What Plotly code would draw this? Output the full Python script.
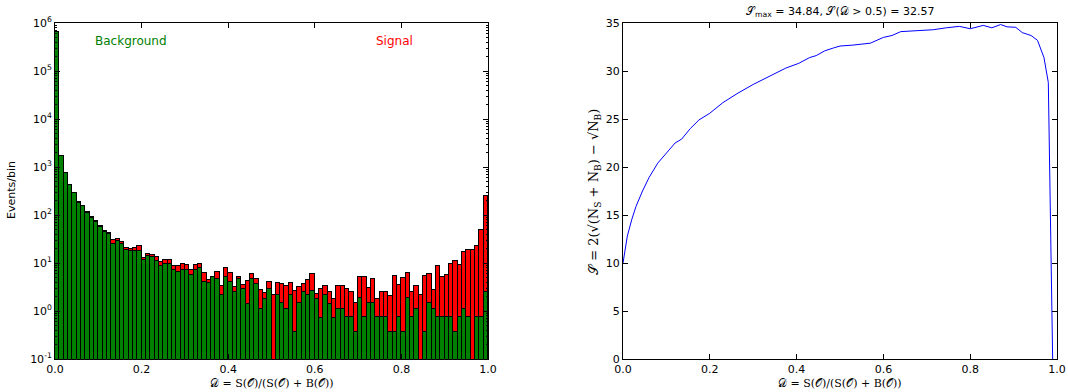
import plotly.graph_objects as go

# ---------------- data ----------------
n_bins = 100
bin_width = 0.01

bkg = [660000, 1690, 735, 426, 285, 182, 152, 112, 88, 73,
       57, 44, 41, 24.4, 28.2, 25.2, 18.9, 17.4, 17.4, 17.7,
       11.7, 13.7, 13.3, 10.9, 8.7, 9.6, 9.5, 7.0, 6.4, 7.0,
       7.2, 5.5, 7.0, 7.8, 4.1, 3.9, 5.1, 4.7, 2.2, 5.1,
       4.0, 2.5, 4.6, 2.9, 1.4, 4.6, 3.7, 1.1, 1.8, 2.9,
       0, 2.2, 1.5, 1.1, 2.2, 0.37, 1.5, 2.5, 2.2, 2.6,
       1.8, 0.72, 2.2, 1.4, 0.72, 1.1, 1.1, 0.74, 0.74, 0.37,
       1.84, 0.74, 1.47, 1.47, 0.74, 0.74, 0.74, 0.37, 0.37, 0.74,
       0.37, 1.84, 0.74, 1.1, 0, 0.37, 1.47, 1.1, 0.74, 0.74,
       0.74, 0.74, 0.37, 0.74, 1.1, 0.74, 0, 0.74, 0.74, 2.5]

sig = [0, 10, 5, 2, 2, 1, 1, 1, 1, 3,
       1, 3, 2, 5.6, 2.8, 2.6, 1.9, 2.4, 3.4, 4.5,
       1.2, 1.6, 1.3, 2.4, 1.9, 2.1, 2.2, 1.7, 2.3, 2.6,
       2.1, 1.7, 2.2, 1.8, 2.1, 0.5, 0.0, 1.7, 1.1, 2.8,
       2.2, 0.6, 0.5, 0.6, 2.8, 1.2, 1.0, 1.6, 0.6, 1.1,
       2.2, 1.6, 2.2, 2.2, 1.6, 2.2, 1.6, 1.2, 2.2, 3.4,
       0.5, 2.2, 1.1, 1.1, 1.1, 2.2, 2.2, 2.2, 1.7, 1.1,
       3.3, 4.4, 1.6, 3.2, 1.0, 1.7, 1.7, 1.7, 5.0, 2.8,
       4.4, 4.4, 1.7, 2.2, 2.2, 5.0, 4.3, 1.7, 7.8, 4.4,
       5.0, 8.9, 10.7, 8.2, 15.5, 17.6, 18.3, 21.8, 47.2, 247.5]

cut_D = [0.0, 0.01, 0.02, 0.03, 0.045, 0.06, 0.08, 0.10, 0.12, 0.135,
         0.155, 0.175, 0.20, 0.23, 0.265, 0.30, 0.33, 0.355, 0.375, 0.405,
         0.43, 0.445, 0.465, 0.485, 0.50, 0.53, 0.555, 0.57, 0.60, 0.62,
         0.64, 0.685, 0.715, 0.745, 0.775, 0.80, 0.83, 0.85, 0.87, 0.885,
         0.905, 0.92, 0.94, 0.955, 0.97, 0.98, 0.99]
signif = [10.0, 12.8, 14.5, 15.9, 17.5, 18.9, 20.4, 21.5, 22.5, 22.9,
          24.0, 24.9, 25.6, 26.7, 27.7, 28.6, 29.3, 29.8, 30.3, 30.8,
          31.4, 31.6, 32.1, 32.4, 32.6, 32.7, 32.8, 32.9, 33.5, 33.7,
          34.1, 34.2, 34.3, 34.5, 34.65, 34.4, 34.75, 34.5, 34.84, 34.6,
          34.55, 34.0, 33.7, 33.2, 31.4, 28.8, 0.0]

x_ticks = [0.0, 0.2, 0.4, 0.6, 0.8, 1.0]
x_ticktext = ["0.0", "0.2", "0.4", "0.6", "0.8", "1.0"]
log_tickvals = [0.1, 1, 10, 100, 1000, 10000, 100000, 1000000]
log_ticktext = ["10<sup>-1</sup>", "10<sup>0</sup>", "10<sup>1</sup>", "10<sup>2</sup>",
                "10<sup>3</sup>", "10<sup>4</sup>", "10<sup>5</sup>", "10<sup>6</sup>"]
s_ticks = [0, 5, 10, 15, 20, 25, 30, 35]

centers = [(i + 0.5) * bin_width for i in range(n_bins)]

W, H = 1068, 392
FONT = "DejaVu Sans"

fig = go.Figure()
fig.add_trace(go.Bar(x=centers, y=bkg, width=bin_width, name="Background",
                     marker=dict(color="#008000", line=dict(color="black", width=1)),
                     xaxis="x", yaxis="y", showlegend=False))
fig.add_trace(go.Bar(x=centers, y=sig, width=bin_width, name="Signal",
                     marker=dict(color="#ff0000", line=dict(color="black", width=1)),
                     xaxis="x", yaxis="y", showlegend=False))
fig.add_trace(go.Scatter(x=cut_D, y=signif, mode="lines",
                         line=dict(color="#0000ff", width=1),
                         xaxis="x2", yaxis="y2", showlegend=False))

ax_common = dict(showline=True, linecolor="black", linewidth=1, mirror="ticks",
                 ticks="inside", ticklen=5, tickcolor="black", showgrid=False,
                 zeroline=False, tickfont=dict(family=FONT, size=11, color="black"))

xd1 = [55 / W, 488 / W]
xd2 = [623 / W, 1057 / W]
yd = [33 / H, 369 / H]

fig.update_layout(
    width=W, height=H,
    margin=dict(l=0, r=0, t=0, b=0),
    paper_bgcolor="white", plot_bgcolor="white",
    barmode="stack", bargap=0,
    template="none",
    xaxis=dict(domain=xd1, range=[0, 1], tickvals=x_ticks, ticktext=x_ticktext,
               anchor="y", **ax_common),
    yaxis=dict(domain=yd, type="log", range=[-1, 6], tickmode="array",
               tickvals=log_tickvals, ticktext=log_ticktext, anchor="x",
               minor=dict(ticks="inside", ticklen=2, tickcolor="black", dtick="D1", showgrid=False),
               **ax_common),
    xaxis2=dict(domain=xd2, range=[0, 1], tickvals=x_ticks, ticktext=x_ticktext,
                anchor="y2", **ax_common),
    yaxis2=dict(domain=yd, range=[0, 35], tickvals=s_ticks, anchor="x2", **ax_common),
)

xtitle = "𝒟 = S(𝒪)/(S(𝒪) + B(𝒪))"
xtitle_y = 1 - 383 / H
C = dict(xanchor="center", yanchor="middle", showarrow=False)
ann = [
    dict(text="Background", x=0.176, y=1 - 41 / H, xref="x domain", yref="paper",
         font=dict(family=FONT, size=12, color="#008000"), **C),
    dict(text="Signal", x=0.783, y=1 - 41 / H, xref="x domain", yref="paper",
         font=dict(family=FONT, size=12, color="#ff0000"), **C),
    dict(text=xtitle, x=0.5, y=xtitle_y, xref="x domain", yref="paper",
         font=dict(family="DejaVu Serif", size=11, color="black"), **C),
    dict(text=xtitle, x=0.5, y=xtitle_y, xref="x2 domain", yref="paper",
         font=dict(family="DejaVu Serif", size=11, color="black"), **C),
    dict(text="Events/bin", x=12 / W, y=1 - 190 / H, xref="paper", yref="paper",
         textangle=-90, font=dict(family=FONT, size=11, color="black"), **C),
    dict(text="𝒮 = 2(√(N<sub>S</sub> + N<sub>B</sub>) − √N<sub>B</sub>)", x=594 / W,
         y=1 - 192 / H, xref="paper", yref="paper", textangle=-90,
         font=dict(family="DejaVu Serif", size=13, color="black"), **C),
    dict(text="𝒮<sub>max</sub> = 34.84, 𝒮(𝒟 > 0.5) = 32.57", x=0.5, y=1 - 12 / H,
         xref="x2 domain", yref="paper",
         font=dict(family=FONT, size=11, color="black"), **C),
]
fig.update_layout(annotations=ann)

fig.write_html("out.html")
